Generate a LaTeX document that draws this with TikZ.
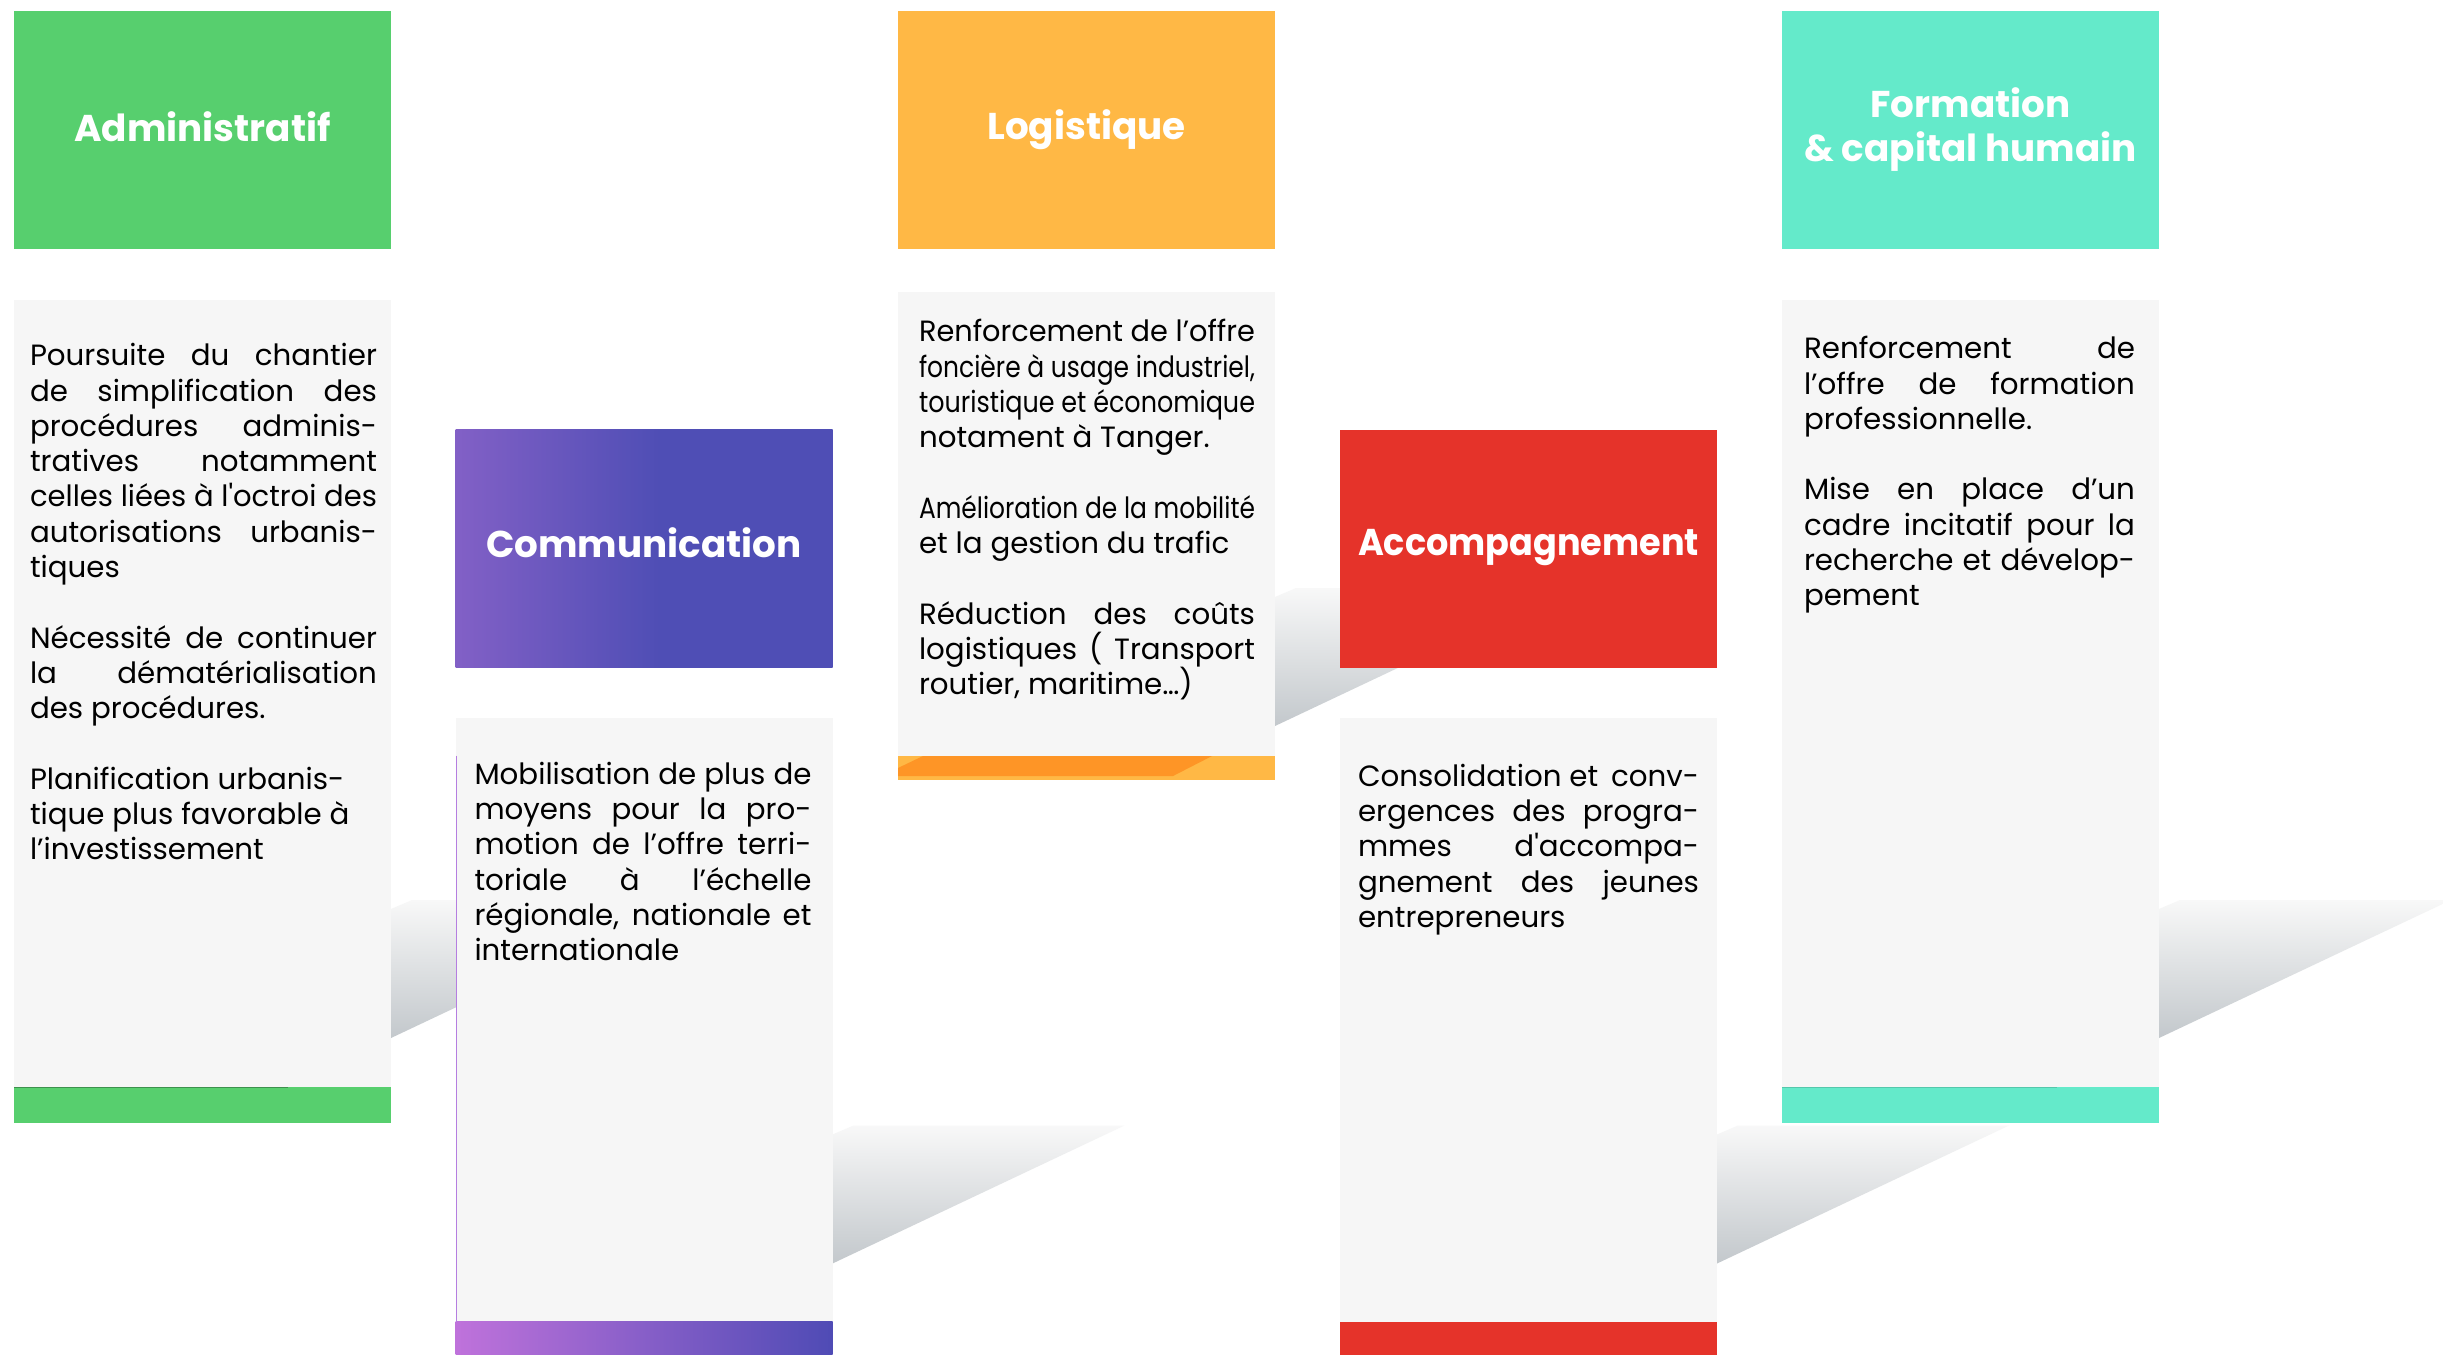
\documentclass[tikz,border=0pt]{standalone}
\usepackage{fontspec}
\setmainfont{Poppins}
\usepackage{graphicx}
\usetikzlibrary{positioning,backgrounds,calc}

\definecolor{admingreen}{HTML}{57CF6E}
\definecolor{logiorange}{HTML}{FFB845}
\definecolor{logidark}{HTML}{FE9526}
\definecolor{commleft}{HTML}{8260C6}
\definecolor{commright}{HTML}{4F4EB5}
\definecolor{barleft}{HTML}{BF72DB}
\definecolor{barright}{HTML}{4F4BB5}
\definecolor{accompred}{HTML}{E5332A}
\definecolor{formteal}{HTML}{64EACA}
\definecolor{bodygray}{HTML}{F6F6F6}
\definecolor{foldtop}{HTML}{F8F8F8}
\definecolor{foldbottom}{HTML}{C3C8CC}
\definecolor{commline}{HTML}{B57EE0}

\pgfdeclarehorizontalshading{commhead}{100bp}{color(0bp)=(commleft); color(25bp)=(commleft); color(52bp)=(commright); color(100bp)=(commright)}

\newcommand{\headfont}{\fontsize{37.3}{44}\selectfont\bfseries}
\newcommand{\txtfont}{\fontsize{29.3}{35.3}\selectfont}
\newsavebox{\linebox}
% one justified line: spread out, or squeezed when too long
\newcommand{\jl}[1]{\sbox{\linebox}{\spaceskip=0pt\xspaceskip=0pt #1}%
  \ifdim\wd\linebox>\hsize\resizebox{\hsize}{\height}{#1}%
  \else\makebox[\hsize][s]{\spaceskip=0pt\xspaceskip=0pt #1}\fi}

\begin{document}
\begin{tikzpicture}[x=1pt, y=-1pt]
		\tikzset{
			every node/.style={
				inner sep=0pt,
				outer sep=0pt
			},
			head/.style={
				minimum width=377pt,
				minimum height=238pt,
				align=center,
				text=white,
				font=\headfont
			},
			oneline/.style={
				text height=27pt,
				text depth=#1
			},
			oneline/.default=9pt,
			bodybox/.style={
				fill=bodygray,
				minimum width=377pt
			},
			bar/.style={
				minimum width=377pt
			},
			txt/.style={
				anchor=north west,
				text width=#1,
				align=justify,
				font=\txtfont
			},
			fold/.style={
				top color=foldtop,
				bottom color=foldbottom
			}
		}

		\useasboundingbox (0,0) rectangle (2443,1355);

		% headers
		\node[head, oneline=5pt, fill=admingreen] (admin) at (202.5, 130)
			{Administratif};
		\node[head, oneline, shade, shading=commhead] (comm) at (644, 548.5)
			{Communication};
		\node[head, oneline, fill=logiorange] (logi) at (1086.5, 130)
			{Logistique};
		\node[head, oneline=13pt, fill=accompred] (accomp) at (1528.5, 548.5)
			{\resizebox{341pt}{\height}{Accompagnement}};
		\node[head, fill=formteal] (form) at (1970.5, 130)
			{\raisebox{5pt}{\parbox{377pt}{\centering Formation\\\& capital humain}}};

		% bodies and bottom bars
		\node[bodybox, minimum height=787pt, below=51pt of admin] (adminbody) {};
		\node[bar, fill=admingreen, minimum height=36pt, below=0pt of adminbody] (adminbar) {};

		\node[bodybox, minimum height=604pt, below=50pt of comm] (commbody) {};
		\node[bar, left color=barleft, right color=barright, minimum height=33pt, below=0pt of commbody] (commbar) {};

		\node[bodybox, minimum height=464pt, below=43pt of logi] (logibody) {};
		\node[bar, fill=logiorange, minimum height=24pt, below=0pt of logibody] (logibar) {};

		\node[bodybox, minimum height=604pt, below=50pt of accomp] (accompbody) {};
		\node[bar, fill=accompred, minimum height=33pt, below=0pt of accompbody] (accompbar) {};

		\node[bodybox, minimum height=787pt, below=51pt of form] (formbody) {};
		\node[bar, fill=formteal, minimum height=36pt, below=0pt of formbody] (formbar) {};

		\fill[logidark] ($(logibar.north west)+(0,12)$) -- ++(25,-12) -- ++(289,0)
			-- ++(-39,20) -- ($(logibar.north west)+(0,20)$) -- cycle;
		\draw[commline, line width=1.5pt] ($(commbody.north west)+(0.75,38)$)
			-- ($(commbody.south west)+(0.75,0)$);
		\draw[admingreen!70!black, line width=1pt] (adminbar.north west) -- ++(274,0);
		\draw[formteal!85!black, line width=1pt] (formbar.north west) -- ++(275,0);

		% texts
		\node[txt=347pt, below right=43.4pt and 16pt of adminbody.north west] (admintxt)
			{\jl{Poursuite du chantier}\\
			\jl{de simplification des}\\
			\jl{procédures adminis-}\\
			\jl{tratives notamment}\\
			\jl{celles liées à l\textquotesingle octroi des}\\
			\jl{autorisations urbanis-}\\
			tiques\\[35.3pt]
			\jl{Nécessité de continuer}\\
			\jl{la dématérialisation}\\
			des procédures.\\[35.3pt]
			Planification urbanis-\\
			tique plus favorable à\\
			l’investissement};

		\node[txt=337pt, below right=44.4pt and 19pt of commbody.north west] (commtxt)
			{\jl{Mobilisation de plus de}\\
			\jl{moyens pour la pro-}\\
			\jl{motion de l’offre terri-}\\
			\jl{toriale à l’échelle}\\
			\jl{régionale, nationale et}\\
			internationale};

		\node[txt=336pt, below right=27.4pt and 21pt of logibody.north west] (logitxt)
			{\jl{Renforcement de l’offre}\\
			\resizebox{\hsize}{\height}{foncière à usage industriel,}\\
			\resizebox{\hsize}{\height}{touristique et économique}\\
			notament à Tanger.\\[35.3pt]
			\resizebox{\hsize}{\height}{Amélioration de la mobilité}\\
			et la gestion du trafic\\[35.3pt]
			\jl{Réduction des coûts}\\
			\jl{logistiques ( Transport}\\
			routier, maritime…)};

		\node[txt=341pt, below right=46.4pt and 18pt of accompbody.north west] (accomptxt)
			{\makebox[\hsize]{Consolidation et\hfill conv-}\\
			\jl{ergences des progra-}\\
			\jl{mmes d\textquotesingle accompa-}\\
			\jl{gnement des jeunes}\\
			entrepreneurs};

		\node[txt=331pt, below right=36.4pt and 22pt of formbody.north west] (formtxt)
			{\jl{Renforcement de}\\
			\jl{l’offre de formation}\\
			professionnelle.\\[35.3pt]
			\jl{Mise en place d’un}\\
			\jl{cadre incitatif pour la}\\
			\jl{recherche et dévelop-}\\
			pement};

		% folds behind the columns
		\begin{scope}[on background layer]
			\fill[white] (0,0) rectangle (2443,1355);
			\foreach \col/\dy in {adminbody/600, commbody/408, logibody/296, accompbody/408, formbody/600}
				\shade[fold] ($(\col.north east)+(0,\dy+9)$) -- ++(21,-9) -- ++(271,0)
					-- ($(\col.north east)+(0,\dy+138)$) -- cycle;
		\end{scope}

	\end{tikzpicture}
\end{document}
